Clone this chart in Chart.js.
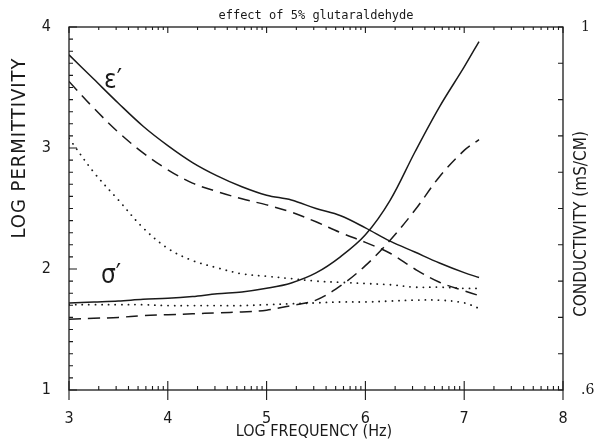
<!DOCTYPE html>
<html>
<head>
<meta charset="utf-8">
<script src="https://cdn.jsdelivr.net/npm/chart.js@4/dist/chart.umd.min.js"></script>
<style>
  body { margin: 0; background: #fff; }
  #wrap { width: 594px; height: 441px; }
</style>
</head>
<body>
<div id="wrap"><canvas id="chart" width="594" height="441"></canvas></div>
<script>
// log frequency (Hz), shared by all curves
const freq = [3.0, 3.25, 3.5, 3.75, 4.0, 4.25, 4.5, 4.75, 5.0, 5.25, 5.5, 5.75, 6.0, 6.25, 6.5, 6.75, 7.0, 7.15];

// log permittivity (left axis)
const permSolid  = [3.77, 3.57, 3.37, 3.18, 3.02, 2.88, 2.77, 2.68, 2.61, 2.57, 2.50, 2.44, 2.34, 2.23, 2.14, 2.05, 1.97, 1.93];
const permDashed = [3.55, 3.33, 3.13, 2.96, 2.82, 2.71, 2.64, 2.58, 2.53, 2.47, 2.39, 2.30, 2.22, 2.13, 2.00, 1.89, 1.82, 1.78];
const permDotted = [3.08, 2.80, 2.57, 2.34, 2.17, 2.07, 2.01, 1.96, 1.94, 1.92, 1.90, 1.89, 1.88, 1.87, 1.85, 1.85, 1.84, 1.84];

// conductivity mS/cm (right axis)
const condSolid  = [0.696, 0.697, 0.698, 0.700, 0.701, 0.703, 0.706, 0.708, 0.712, 0.718, 0.729, 0.747, 0.771, 0.809, 0.862, 0.912, 0.956, 0.984];
const condDashed = [0.678, 0.679, 0.680, 0.682, 0.683, 0.684, 0.685, 0.686, 0.688, 0.693, 0.699, 0.715, 0.737, 0.765, 0.798, 0.835, 0.864, 0.876];
const condDotted = [0.694, 0.694, 0.694, 0.694, 0.693, 0.693, 0.693, 0.693, 0.694, 0.695, 0.696, 0.697, 0.697, 0.698, 0.699, 0.699, 0.696, 0.690];

const xTicks = [3, 4, 5, 6, 7, 8];

const titleText = 'effect of 5% glutaraldehyde';
const xTitle = 'LOG FREQUENCY (Hz)';
const yTitle = 'LOG PERMITTIVITY';
const y1Title = 'CONDUCTIVITY (mS/CM)';

const INK = '#1a1a1a';
const SANS = "'DejaVu Sans Condensed', 'Liberation Sans Narrow', 'DejaVu Sans', sans-serif";

const pts = (ys) => freq.map((x, i) => ({ x, y: ys[i] }));

const solid = { borderDash: [], borderWidth: 1.5 };
const dashed = { borderDash: [12, 7], borderWidth: 1.5 };
const dotted = { borderDash: [0.1, 6.5], borderWidth: 1.8, borderCapStyle: 'round' };

function line(label, ys, axis, style) {
    return {
        label,
        data: pts(ys),
        yAxisID: axis,
        borderColor: INK,
        backgroundColor: INK,
        pointRadius: 0,
        tension: 0.35,
        fill: false,
        ...style,
    };
}

// frame, ticks and text annotations
const decor = {
    id: 'decor',
    afterDraw(chart) {
        const { ctx, chartArea: a, scales } = chart;
        const x = scales.x, y = scales.y, y1 = scales.y1;
        ctx.save();
        ctx.strokeStyle = INK;
        ctx.lineWidth = 1.3;
        ctx.strokeRect(a.left, a.top, a.right - a.left, a.bottom - a.top);

        ctx.lineWidth = 1.1;
        ctx.beginPath();
        // left axis: minor every 0.1
        for (let i = 0; i <= 30; i++) {
            const py = y.getPixelForValue(1 + i / 10);
            const len = i % 10 === 0 ? 8 : 4;
            ctx.moveTo(a.left, py); ctx.lineTo(a.left + len, py);
        }
        // right axis: every 0.04
        for (let i = 0; i <= 10; i++) {
            const py = y1.getPixelForValue(0.6 + i * 0.04);
            ctx.moveTo(a.right, py); ctx.lineTo(a.right - 5, py);
        }
        // bottom / top: log minor ticks
        xTicks.forEach((d) => {
            const px = x.getPixelForValue(d);
            ctx.moveTo(px, a.bottom - 9); ctx.lineTo(px, a.bottom + 10);
            ctx.moveTo(px, a.top); ctx.lineTo(px, a.top + 6);
            if (d === 8) return;
            for (let k = 2; k <= 9; k++) {
                const mx = x.getPixelForValue(d + Math.log10(k));
                ctx.moveTo(mx, a.bottom); ctx.lineTo(mx, a.bottom - 4);
                ctx.moveTo(mx, a.top); ctx.lineTo(mx, a.top + 3);
            }
        });
        ctx.stroke();

        ctx.fillStyle = INK;
        // title
        ctx.font = "12px 'DejaVu Sans Mono', monospace";
        ctx.textAlign = 'center';
        ctx.textBaseline = 'middle';
        ctx.fillText(titleText, 316, 16);

        // axis titles
        ctx.font = '16px ' + SANS;
        ctx.fillText(xTitle, 314, 432);

        ctx.save();
        ctx.translate(20, 148);
        ctx.rotate(-Math.PI / 2);
        ctx.font = '20px ' + SANS;
        ctx.letterSpacing = '1px';
        ctx.fillText(yTitle, 0, 0);
        ctx.restore();

        ctx.save();
        ctx.translate(582, 224);
        ctx.rotate(-Math.PI / 2);
        ctx.font = '17px ' + SANS;
        ctx.fillText(y1Title, 0, 0);
        ctx.restore();

        // curve labels
        ctx.font = '26px ' + SANS;
        ctx.fillText('\u03b5\u2032', x.getPixelForValue(3.445), y.getPixelForValue(3.55));
        ctx.fillText('\u03c3\u2032', x.getPixelForValue(3.425), y.getPixelForValue(1.94));
        ctx.restore();
    },
};

new Chart(document.getElementById('chart'), {
    type: 'line',
    data: {
        datasets: [
            line("ε' solid", permSolid, 'y', solid),
            line("ε' dashed", permDashed, 'y', dashed),
            line("ε' dotted", permDotted, 'y', dotted),
            line("σ' solid", condSolid, 'y1', solid),
            line("σ' dashed", condDashed, 'y1', dashed),
            line("σ' dotted", condDotted, 'y1', dotted),
        ],
    },
    options: {
        responsive: false,
        animation: false,
        layout: { padding: { top: 27, left: 0, right: 0, bottom: 0 } },
        plugins: { legend: { display: false }, tooltip: { enabled: false }, title: { display: false } },
        scales: {
            x: {
                type: 'linear',
                min: 3,
                max: 8,
                afterBuildTicks: (s) => { s.ticks = xTicks.map((v) => ({ value: v })); },
                afterFit: (s) => { s.height = 51; },
                grid: { display: false },
                border: { display: false },
                ticks: { color: INK, font: { family: SANS, size: 16 }, padding: 11 },
            },
            y: {
                position: 'left',
                min: 1,
                max: 4,
                afterFit: (s) => { s.width = 69; },
                grid: { display: false },
                border: { display: false },
                ticks: { stepSize: 1, color: INK, font: { family: SANS, size: 16 }, padding: 10 },
            },
            y1: {
                position: 'right',
                min: 0.6,
                max: 1.0,
                afterFit: (s) => { s.width = 31; },
                grid: { display: false },
                border: { display: false },
                ticks: {
                    stepSize: 0.4,
                    color: INK,
                    font: { family: 'DejaVu Serif', size: 14 },
                    padding: 10,
                    callback: (v) => (Math.abs(v - 1) < 1e-6 ? '1' : '.6'),
                },
            },
        },
    },
    plugins: [decor],
});
</script>
</body>
</html>
